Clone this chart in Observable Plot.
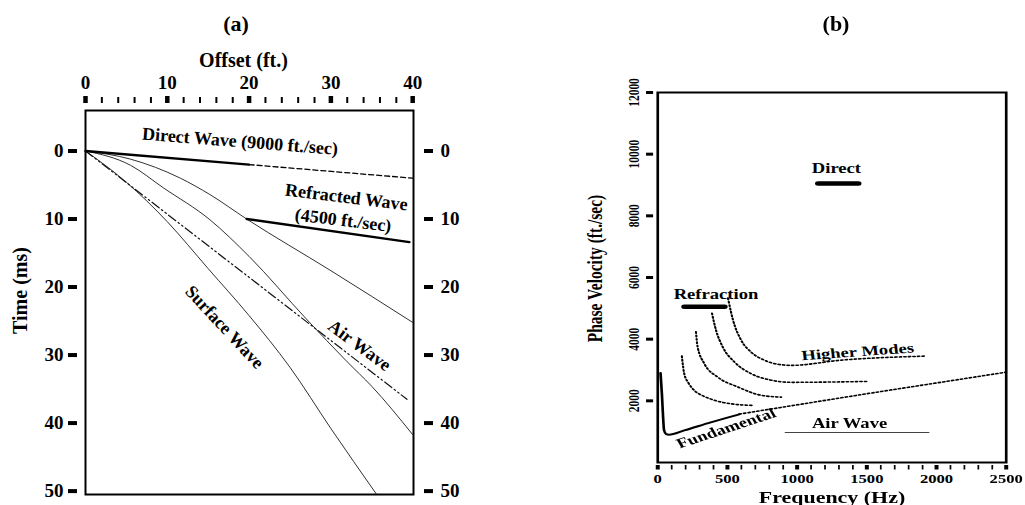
<!DOCTYPE html>
<html><head><meta charset="utf-8">
<script src="https://cdn.jsdelivr.net/npm/d3@7"></script>
<script src="https://cdn.jsdelivr.net/npm/@observablehq/plot@0.6"></script>
<style>
html,body{margin:0;padding:0;background:#fff;}
#wrap{position:relative;width:1025px;height:505px;overflow:hidden;font-family:"Liberation Serif","Times New Roman",serif;font-weight:bold;color:#000;background:#fff;}
.title{position:absolute;top:13px;font-size:22px;line-height:22px;transform:translateX(-50%);z-index:5;}
#a{position:absolute;left:0;top:0;width:560px;height:505px;z-index:1;}
#b{position:absolute;left:560px;top:0;width:350px;height:505px;transform:scaleX(1.33);transform-origin:0 0;z-index:1;}
</style></head><body>
<div id="wrap">
  <div id="a"></div>
  <div id="b"></div>
  <div class="title" style="left:236px">(a)</div>
  <div class="title" style="left:836px">(b)</div>
</div>
<script>
// ---------- Panel (a): time vs offset ----------
const offsetTicks = [0, 10, 20, 30, 40];
const offsetMinorTicks = [2, 4, 6, 8, 12, 14, 16, 18, 22, 24, 26, 28, 32, 34, 36, 38];
const timeTicks = [0, 10, 20, 30, 40, 50];

const directOffset = [0, 20];
const directTime = [0, 2.0];
const directDashOffset = [20, 40];
const directDashTime = [2.0, 4.0];
const refractedOffset = [19.7, 39.6];
const refractedTime = [10.0, 13.4];
const curve1Offset = [0, 5.5, 11.6, 15.2, 19.7, 30, 40];
const curve1Time = [0, 1.2, 4.0, 6.4, 10.0, 17.6, 25.2];
const curve2Offset = [0, 5.5, 9.5, 15.2, 20, 27, 32, 35, 40];
const curve2Time = [0, 2.1, 5.4, 10.1, 15.5, 24.7, 31.0, 34.6, 41.7];
const surfaceOffset = [0, 5, 10, 15, 20, 25, 30, 35.6];
const surfaceTime = [0, 4.6, 10.4, 17.3, 24.2, 31.8, 40.8, 50.5];
const airOffset = [0, 39.3];
const airTime = [0, 36.5];

const labelsA = [
  {text: "Direct Wave (9000 ft./sec)", x: 18.9, y: -1.4, rotate: 4.5},
  {text: "Refracted Wave", x: 31.9, y: 6.8, rotate: 7},
  {text: "(4500 ft./sec)", x: 31.5, y: 10.2, rotate: 7},
  {text: "Surface Wave", x: 17.0, y: 25.9, rotate: 47},
  {text: "Air Wave", x: 33.5, y: 28.6, rotate: 36.6}
];

// ---------- Panel (b): phase velocity vs frequency ----------
const freqTicks = [0, 500, 1000, 1500, 2000, 2500];
const freqMinorTicks = d3.range(100, 2500, 100).filter(d => d % 500 !== 0);
const velTicks = [2000, 4000, 6000, 8000, 10000, 12000];

const directBarFreq = [1150, 1440];
const directBarVel = [9050, 9050];
const refrBarFreq = [190, 480];
const refrBarVel = [5050, 5050];
const fundFreq = [20, 30, 38, 45, 60, 80, 190, 380, 585];
const fundVel = [2900, 2200, 1500, 1050, 920, 900, 1040, 1300, 1560];
const fundDotFreq = [585, 1000, 1500, 2000, 2500];
const fundDotVel = [1570, 1870, 2230, 2580, 2930];
const mode1Freq = [173, 190, 220, 262, 330, 406, 550, 690];
const mode1Vel = [3450, 2880, 2580, 2340, 2150, 2020, 1890, 1850];
const mode2Freq = [274, 286, 334, 430, 574, 742, 886];
const mode2Vel = [4240, 3750, 3210, 2770, 2450, 2180, 2120];
const mode3Freq = [389, 418, 466, 550, 670, 814, 958, 1513];
const mode3Vel = [4840, 4290, 3750, 3260, 2880, 2670, 2600, 2630];
const mode4Freq = [504, 540, 598, 670, 764, 908, 958, 1318, 1916];
const mode4Vel = [5330, 4620, 3970, 3580, 3320, 3160, 3150, 3320, 3450];
const airBFreq = [915, 1945];
const airBVel = [975, 975];

const labelsB = [
  {text: "Direct", x: 1282, y: 9530, rotate: 0},
  {text: "Refraction", x: 418, y: 5460, rotate: 0},
  {text: "Higher Modes", x: 1434, y: 3590, rotate: -5.3},
  {text: "Fundamental", x: 490, y: 1106, rotate: -23.7},
  {text: "Air Wave", x: 1376, y: 1268, rotate: 0}
];

const rows = (xs, ys) => xs.map((x, i) => ({x, y: ys[i]}));
const FONT = "Liberation Serif, Times New Roman, serif";

const plotA = Plot.plot({
  width: 560, height: 505,
  marginLeft: 85, marginRight: 147, marginTop: 110, marginBottom: 11,
  x: {domain: [0, 40.1], label: null},
  y: {domain: [-5.95, 50.5], reverse: true, label: null},
  style: {fontFamily: FONT, fontWeight: "bold", fontSize: "19px", color: "black", background: "white", overflow: "visible"},
  marks: [
    Plot.frame({stroke: "black", strokeWidth: 2}),
    Plot.axisX(offsetMinorTicks, {anchor: "top", tickSize: 6, strokeWidth: 2, dy: -8, fill: "none", label: null}),
    Plot.axisX(offsetTicks, {anchor: "top", tickSize: 7, strokeWidth: 4.5, dy: -8, tickPadding: 7, label: null, fontSize: 19, fontWeight: "bold", tickFormat: d => String(d)}),
    Plot.axisY(timeTicks, {anchor: "left", tickSize: 9, strokeWidth: 4, dx: -8, tickPadding: 5, label: null, fontSize: 19, fontWeight: "bold", tickFormat: d => String(d)}),
    Plot.axisY(timeTicks, {anchor: "right", tickSize: 9, strokeWidth: 4, dx: 10, tickPadding: 8, label: null, fontSize: 19, fontWeight: "bold", tickFormat: d => String(d)}),
    Plot.text(["Offset (ft.)"], {frameAnchor: "top", lineAnchor: "middle", textAnchor: "middle", dy: -50, dx: -6, fontSize: 20, fontWeight: "bold"}),
    Plot.text(["Time (ms)"], {frameAnchor: "left", lineAnchor: "middle", textAnchor: "middle", rotate: -90, dx: -65, dy: -12, fontSize: 20, fontWeight: "bold"}),
    Plot.line(rows(curve1Offset, curve1Time), {x: "x", y: "y", stroke: "#1a1a1a", strokeWidth: 0.9, curve: "monotone-x"}),
    Plot.line(rows(curve2Offset, curve2Time), {x: "x", y: "y", stroke: "#1a1a1a", strokeWidth: 0.9, curve: "monotone-x"}),
    Plot.line(rows(surfaceOffset, surfaceTime), {x: "x", y: "y", stroke: "#1a1a1a", strokeWidth: 0.9, curve: "monotone-x", clip: true}),
    Plot.line(rows(airOffset, airTime), {x: "x", y: "y", stroke: "#111", strokeWidth: 1.2, strokeDasharray: "9,3,1.5,3,1.5,3"}),
    Plot.line(rows(directOffset, directTime), {x: "x", y: "y", stroke: "black", strokeWidth: 2.4}),
    Plot.line(rows(directDashOffset, directDashTime), {x: "x", y: "y", stroke: "black", strokeWidth: 1.3, strokeDasharray: "5,3"}),
    Plot.line(rows(refractedOffset, refractedTime), {x: "x", y: "y", stroke: "black", strokeWidth: 2.4}),
    Plot.text(labelsA, {x: "x", y: "y", text: "text", rotate: "rotate", fontSize: 18, fontWeight: "bold", fill: "black"})
  ]
});
document.getElementById("a").appendChild(plotA);

const plotB = Plot.plot({
  width: 350, height: 505,
  marginLeft: 73, marginRight: 15, marginTop: 92, marginBottom: 43,
  x: {domain: [0, 2500], label: null},
  y: {domain: [0, 12000], label: null},
  style: {fontFamily: FONT, fontWeight: "bold", fontSize: "12.5px", color: "black", background: "white", overflow: "visible"},
  marks: [
    Plot.frame({stroke: "black", strokeWidth: 2}),
    Plot.axisX(freqMinorTicks, {anchor: "bottom", tickSize: 4.5, strokeWidth: 1.3, dy: 3, fill: "none", label: null}),
    Plot.axisX(freqTicks, {anchor: "bottom", tickSize: 4.5, strokeWidth: 3, dy: 3, tickPadding: 4, label: null, fontSize: 12.5, fontWeight: "bold", tickFormat: d => String(d)}),
    Plot.axisY(velTicks, {anchor: "left", tickSize: 5.3, strokeWidth: 3, dx: -3, fill: "none", label: null}),
    Plot.text(velTicks, {y: d => d, text: d => String(d), frameAnchor: "left", lineAnchor: "middle", textAnchor: "middle", rotate: -90, dx: -18, fontSize: 11.5, fontWeight: "bold"}),
    Plot.text(["Frequency (Hz)"], {frameAnchor: "bottom", lineAnchor: "middle", textAnchor: "middle", dy: 35, fontSize: 16.5, fontWeight: "bold"}),
    Plot.text(["Phase Velocity (ft./sec)"], {frameAnchor: "left", lineAnchor: "middle", textAnchor: "middle", rotate: -90, dx: -46.6, dy: -9, fontSize: 15.5, fontWeight: "bold"}),
    Plot.line(rows(mode1Freq, mode1Vel), {x: "x", y: "y", stroke: "black", strokeWidth: 1.6, strokeDasharray: "1.4,2", curve: "monotone-x"}),
    Plot.line(rows(mode2Freq, mode2Vel), {x: "x", y: "y", stroke: "black", strokeWidth: 1.6, strokeDasharray: "1.4,2", curve: "monotone-x"}),
    Plot.line(rows(mode3Freq, mode3Vel), {x: "x", y: "y", stroke: "black", strokeWidth: 1.6, strokeDasharray: "1.4,2", curve: "monotone-x"}),
    Plot.line(rows(mode4Freq, mode4Vel), {x: "x", y: "y", stroke: "black", strokeWidth: 1.6, strokeDasharray: "1.4,2", curve: "monotone-x"}),
    Plot.line(rows(fundDotFreq, fundDotVel), {x: "x", y: "y", stroke: "black", strokeWidth: 1.6, strokeDasharray: "1.4,2", curve: "monotone-x"}),
    Plot.line(rows(fundFreq, fundVel), {x: "x", y: "y", stroke: "black", strokeWidth: 2, curve: "monotone-x"}),
    Plot.line(rows(directBarFreq, directBarVel), {x: "x", y: "y", stroke: "black", strokeWidth: 4.5}),
    Plot.line(rows(refrBarFreq, refrBarVel), {x: "x", y: "y", stroke: "black", strokeWidth: 4.5}),
    Plot.line(rows(airBFreq, airBVel), {x: "x", y: "y", stroke: "#444", strokeWidth: 1}),
    Plot.text(labelsB, {x: "x", y: "y", text: "text", rotate: "rotate", fontSize: 14, fontWeight: "bold", fill: "black"})
  ]
});
document.getElementById("b").appendChild(plotB);
</script>
</body></html>
